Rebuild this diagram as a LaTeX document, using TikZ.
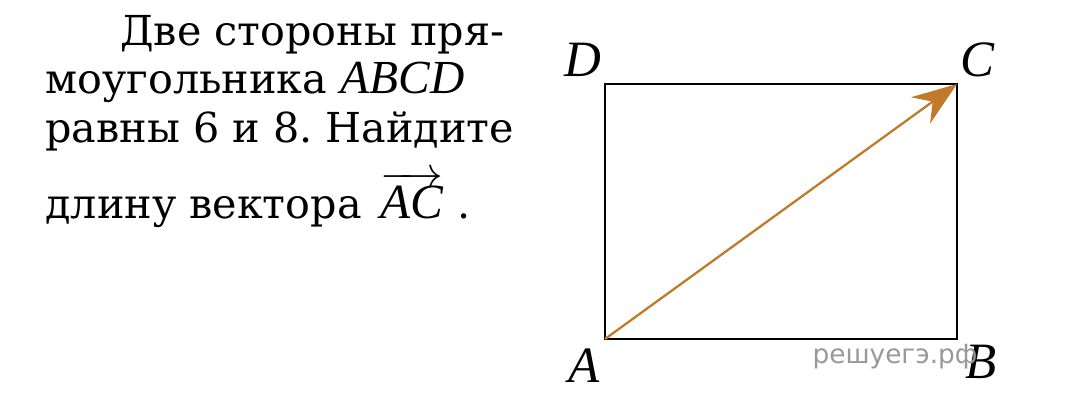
\documentclass[tikz,border=0pt]{standalone}
\usepackage{fontspec}
\setmainfont{DejaVu Serif}
\newfontfamily\labelfont{Liberation Serif}
\newfontfamily\markfont{DejaVu Sans}
\usetikzlibrary{arrows.meta}
\frenchspacing

\begin{document}
\begin{tikzpicture}[x=0.02cm,y=-0.02cm,
  textline/.style={anchor=base west,inner sep=0pt,font=\fontsize{23.5}{28}\selectfont},
  vertex/.style={inner sep=0pt,font=\fontsize{29}{34}\selectfont\labelfont\itshape},
  side/.style={line width=1.6pt},
  vector/.style={-{Stealth[length=9mm,width=6.5mm,inset=3mm]},line width=1.3pt,draw=arrowcol}
]
  \definecolor{arrowcol}{HTML}{C07A2A}
  \useasboundingbox (0,0) rectangle (1080,406);

  % text of the problem
  \node[textline] (line1) at (120,45) {Две стороны пря-};
  \node[textline] (line2) at (45,93) {моугольника {\fontsize{27}{30}\selectfont\labelfont\itshape ABCD}};
  \node[textline] (line3) at (45,142) {равны 6 и 8. Найдите};
  \node[textline] (line4) at (45,218) {длину вектора\hspace{0.45em}%
    $\overrightarrow{\mbox{\fontsize{28}{30}\selectfont\labelfont\itshape AC}}$\hspace{0.35em}.};

  % rectangle
  \coordinate (A) at (605,339);
  \coordinate (B) at (957,339);
  \coordinate (C) at (957,84);
  \coordinate (D) at (605,84);
  \draw[side] (A) -- (B) -- (C) -- (D) -- cycle;
  \draw[vector] (A) -- (C);

  \node[vertex] (labA) at (584,366) {A};
  \node[vertex] (labB) at (981,362) {B};
  \node[vertex] (labC) at (977,60) {C};
  \node[vertex] (labD) at (583,60) {D};

  \node[inner sep=0pt,text=black!40,font=\fontsize{15}{17}\selectfont\markfont] (mark) at (895,357) {решуегэ.рф};
\end{tikzpicture}
\end{document}
